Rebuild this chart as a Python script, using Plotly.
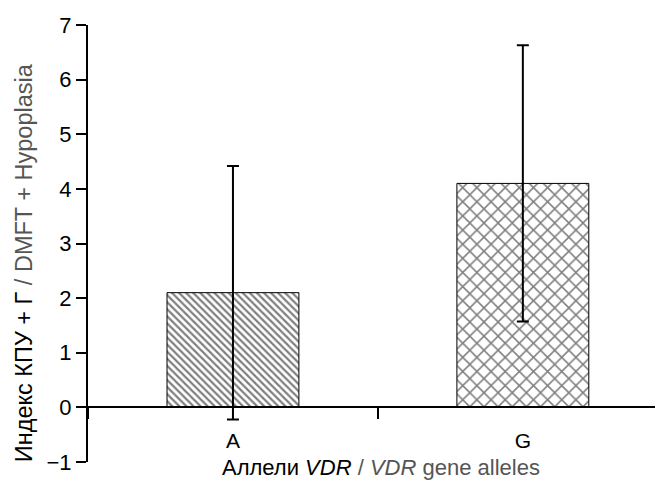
import plotly.graph_objects as go

alleles = ["A", "G"]
means = [2.1, 4.1]
sd = [2.32, 2.53]
pattern_shapes = ["\\", "x"]
pattern_sizes = [5, 10]
pattern_solidity = [0.45, 0.28]

y_ticks = [-1, 0, 1, 2, 3, 4, 5, 6, 7]
y_ticktext = ["\u22121", "0", "1", "2", "3", "4", "5", "6", "7"]

fig = go.Figure()
fig.add_trace(go.Bar(
    x=alleles,
    y=means,
    width=0.455,
    marker=dict(
        color="white",
        line=dict(color="black", width=1),
        pattern=dict(shape=pattern_shapes, size=pattern_sizes,
                     solidity=pattern_solidity, fgcolor="black",
                     bgcolor="white", fillmode="overlay"),
    ),
    error_y=dict(type="data", array=sd, visible=True, color="black",
                 thickness=2, width=6),
    showlegend=False,
))

font_family = "Liberation Sans, Arial, sans-serif"

# page body has an 8px default margin, so the figure is shrunk by 8px
fig.update_layout(
    width=655, height=482,
    margin=dict(l=80, r=1, t=17, b=28),
    paper_bgcolor="white", plot_bgcolor="white",
    font=dict(family=font_family, color="black", size=18),
    xaxis=dict(
        type="category", range=[-0.5, 1.48],
        anchor="free", position=0.125,
        showline=True, linecolor="black", linewidth=2,
        ticks="outside", tickson="boundaries", ticklen=11, tickwidth=2,
        tickcolor="black", showgrid=False, zeroline=False,
        tickvals=alleles,
        ticktext=[f"<span style='font-size:21px'>{a}</span>" for a in alleles],
        tickfont=dict(size=21, color="black"),
        ticklabelstandoff=14,
    ),
    yaxis=dict(
        range=[-1, 7], tickvals=y_ticks, ticktext=y_ticktext,
        showline=True, linecolor="black", linewidth=2,
        ticks="outside", ticklen=10, tickwidth=2, tickcolor="black",
        showgrid=False, zeroline=False, tickfont=dict(size=22),
    ),
    annotations=[
        dict(text="Индекс КПУ + Г <span style='color:#555555'>/ DMFT + Hypoplasia</span>",
             textangle=-90, xref="paper", yref="paper", x=0, y=0.455,
             xanchor="center", yanchor="middle", xshift=-64, showarrow=False,
             font=dict(size=23.5, family=font_family, color="black")),
        dict(text="Аллели <i>VDR</i> <span style='color:#555555'>/ <i>VDR</i> gene alleles</span>",
             xref="paper", yref="paper", x=0.51, y=-0.0137,
             xanchor="center", yanchor="middle", showarrow=False,
             font=dict(size=22, family=font_family, color="black")),
    ],
)

fig.write_html("out.html")
